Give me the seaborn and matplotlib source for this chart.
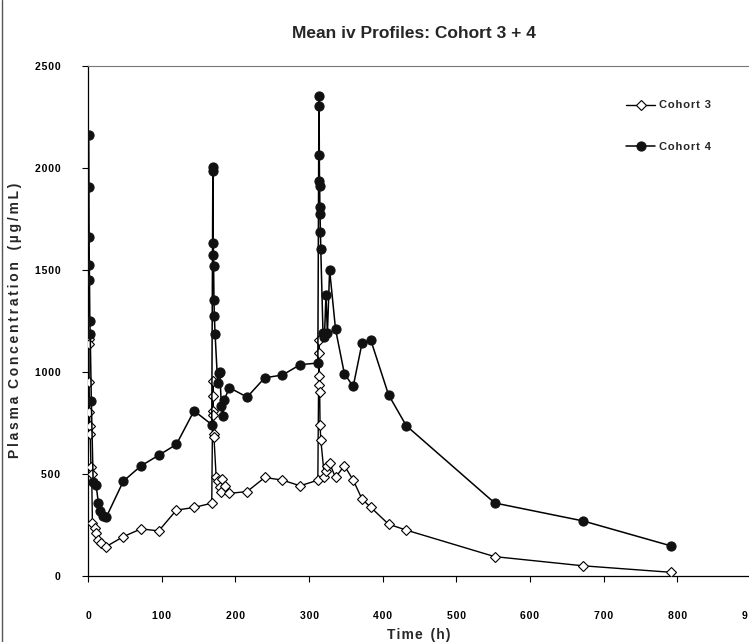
import matplotlib
matplotlib.use("Agg")
import matplotlib.pyplot as plt
import seaborn as sns
import numpy as np
import pandas as pd
from matplotlib.lines import Line2D

# ---- data ----
c3_time = [1, 1.25, 1.5, 2, 2.5, 3, 4, 5, 6, 9, 11, 14, 18, 24, 48, 72, 96, 120, 144, 168,
           169.5, 169.75, 170, 170.25, 170.5, 171, 174, 177, 179, 180.5, 181.5, 186, 192, 216, 240, 264, 288, 312,
           313.5, 313.75, 314, 314.25, 314.5, 315, 316, 321, 323, 325, 328, 336, 348, 360, 372, 384, 408, 432,
           552, 672, 792]
c3_conc = [1164, 1139, 950, 803, 737, 697, 532, 500, 262, 233, 210, 175, 164, 143, 193, 231, 221, 323, 336, 357,
           955, 880, 808, 787, 697, 680, 483, 467, 434, 410, 475, 442, 405, 414, 483, 470, 442, 470,
           1159, 1093, 980, 937, 901, 742, 669, 483, 516, 541, 552, 483, 541, 470, 377, 336, 254, 225,
           95, 50, 18]

c4_time = [1, 1.25, 1.5, 1.75, 2, 2.5, 3, 4.5, 7, 11, 14, 16, 20, 25, 48, 72, 96, 120, 144, 168,
           169.5, 169.75, 170, 170.25, 170.5, 171, 171.5, 172.5, 176, 177.5, 179, 181, 183, 185, 192, 216, 240, 264, 288, 312,
           313.5, 313.75, 314, 314.25, 314.5, 314.75, 315, 315.5, 316, 319, 321, 323, 325, 328, 336, 348, 360, 372, 384,
           408, 432, 552, 672, 792]
c4_conc = [2163, 1909, 1660, 1524, 1450, 1250, 1188, 860, 459, 446, 360, 320, 295, 290, 465, 540, 592, 645, 810, 742,
           2007, 1985, 1634, 1573, 1519, 1352, 1275, 1188, 945, 995, 1000, 831, 782, 865, 923, 877, 972, 985, 1036, 1044,
           2355, 2306, 2065, 1934, 1912, 1811, 1773, 1685, 1601, 1191, 1172, 1377, 1190, 1500, 1210, 992, 929, 1142, 1155,
           888, 737, 358, 270, 147]

series_names = ["Cohort 3", "Cohort 4"]
x_ticks = [0, 100, 200, 300, 400, 500, 600, 700, 800, 900]
y_ticks = [0, 500, 1000, 1500, 2000, 2500]


def spaced(s, sep="\u200a"):
    return sep.join(s)


sns.set_style("white")
plt.rcParams["font.family"] = ["Liberation Sans", "DejaVu Sans"]

fig = plt.figure(figsize=(7.49, 6.42), dpi=100)
ax = fig.add_axes([88 / 749, 66 / 642, 663 / 749, 510 / 642])

df3 = pd.DataFrame({"t": c3_time, "c": c3_conc})
df4 = pd.DataFrame({"t": c4_time, "c": c4_conc})

sns.lineplot(data=df3, x="t", y="c", ax=ax, sort=False, estimator=None, color="black", lw=1,
             marker="D", markersize=5.2, markerfacecolor="white", markeredgecolor="black",
             markeredgewidth=0.8, label=spaced(series_names[0]), zorder=3)
sns.lineplot(data=df4, x="t", y="c", ax=ax, sort=False, estimator=None, color="black", lw=1.1,
             marker="o", markersize=6.6, markerfacecolor="#111111", markeredgecolor="#111111",
             label=spaced(series_names[1]), zorder=4)

ax.set_xlim(0, 900)
ax.set_ylim(0, 2500)
ax.set_xticks(x_ticks)
ax.set_yticks(y_ticks)
ax.set_xticklabels([spaced(str(v)) for v in x_ticks], fontsize=7.5, fontweight="bold")
ax.set_yticklabels([spaced(str(v)) for v in y_ticks], fontsize=7.5, fontweight="bold")
ax.tick_params(axis="x", direction="out", length=4, width=0.8, pad=21, colors="black")
ax.tick_params(axis="y", direction="out", length=4, width=0.8, pad=16, colors="black")
ax.tick_params(bottom=True, left=True)

for s in ["left", "bottom"]:
    ax.spines[s].set_color("black")
    ax.spines[s].set_linewidth(0.9)
ax.spines["top"].set_color("#777777")
ax.spines["top"].set_linewidth(0.8)
ax.spines["right"].set_visible(False)

ax.set_xlabel("")
ax.set_ylabel("")
fig.text(419 / 749, 1 - 635 / 642, spaced("Time") + "  " + spaced("(h)"), ha="center", va="center",
         fontsize=10, fontweight="bold")
fig.text(15 / 749, 1 - 320 / 642,
         spaced("Plasma", "\u2009") + "  " + spaced("Concentration", "\u2009") + "   " + spaced("(µg/mL)", "\u2009"),
         ha="center", va="center", rotation=90, fontsize=10, fontweight="bold")

fig.text(414 / 749, 1 - 33 / 642, "Mean iv Profiles: Cohort 3 + 4", ha="center", va="center",
         fontsize=12.5, fontweight="bold", family=["Liberation Sans Narrow", "Liberation Sans", "DejaVu Sans"])

leg = ax.legend(loc="upper left", bbox_to_anchor=((622 - 88) / 663, (576 - 96) / 510),
                frameon=False, fontsize=8, labelspacing=2.8, handlelength=2.6,
                handletextpad=0.3, borderaxespad=0)
for t in leg.get_texts():
    t.set_fontweight("bold")

fig.add_artist(Line2D([2 / 749, 2 / 749], [0, 1], transform=fig.transFigure, color="#555555", lw=1))

fig.savefig("out.png", dpi=100)
